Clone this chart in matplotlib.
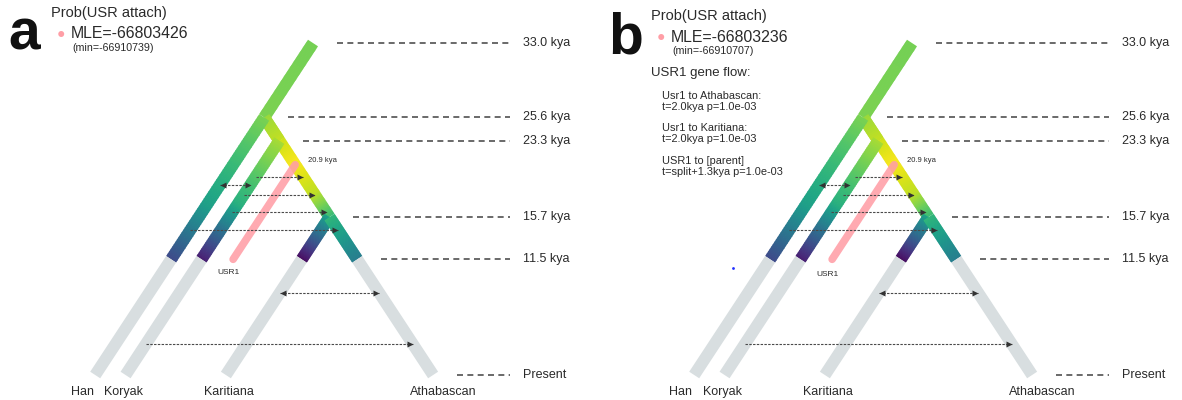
import numpy as np
import matplotlib.pyplot as plt
from matplotlib.collections import LineCollection

plt.rcParams['font.family'] = ['Liberation Sans', 'DejaVu Sans']

W, H = 1182, 400

# tree topology: each branch runs from its parent's bottom end down to t_bottom
branch_names = ['root', 'AB', 'BC', 'Han', 'Koryak', 'Karitiana', 'Athabascan']
branch_parent = [None, 'root', 'AB', 'root', 'AB', 'BC', 'BC']
branch_top = [33.0, 25.6, 23.3, 25.6, 23.3, 15.7, 15.7]
branch_bottom = [25.6, 23.3, 15.7, 0.0, 0.0, 0.0, 0.0]
branch_dir = [-1, 1, 1, -1, -1, -1, 1]
# viridis value stops (time, value) along each branch
branch_colour = [
    [(33.0, 0.79), (25.6, 0.80)],
    [(25.6, 0.85), (23.3, 0.91)],
    [(23.3, 0.92), (21.0, 0.99), (18.0, 0.90), (15.7, 0.68)],
    [(25.6, 0.80), (17.0, 0.57), (11.5, 0.22)],
    [(23.3, 0.87), (17.0, 0.63), (11.5, 0.08)],
    [(15.7, 0.58), (11.5, 0.03)],
    [(15.7, 0.66), (11.5, 0.42)],
]
colour_end = 11.5
leaf_names = ['Han', 'Koryak', 'Karitiana', 'Athabascan']

# time markers on the right
mark_times = [33.0, 25.6, 23.3, 15.7, 11.5, 0.0]
mark_labels = ['33.0 kya', '25.6 kya', '23.3 kya', '15.7 kya', '11.5 kya', 'Present']

# migration arrows: (time, from, to, both ways)
migrations = [
    (19.7, 'Koryak', 'BC', False),
    (18.9, 'Han', 'Koryak', True),
    (17.9, 'Koryak', 'BC', False),
    (16.2, 'Koryak', 'BC', False),
    (14.4, 'Han', 'Athabascan', False),
    (8.2, 'Karitiana', 'Athabascan', True),
    (3.1, 'Koryak', 'Athabascan', False),
]

# ghost lineage USR1
usr1_branch = 'BC'
usr1_attach = 20.9
usr1_end = 11.5

panel_letters = ['a', 'b']
panel_mle = ['MLE=-66803426', 'MLE=-66803236']
panel_min = ['(min=-66910739)', '(min=-66910707)']
gene_flow_title = 'USR1 gene flow:'
gene_flow_lines = [
    ('Usr1 to Athabascan:', 't=2.0kya p=1.0e-03'),
    ('Usr1 to Karitiana:', 't=2.0kya p=1.0e-03'),
    ('USR1 to [parent]', 't=split+1.3kya p=1.0e-03'),
]

PX_X = 6.6      # pixels per x unit
PX_T = 10.06    # pixels per kya
ROOT_PX, PRESENT_PX = 313, 375
PANEL_SHIFT = 599 / PX_X

GREY = '#d8dee0'
PINK = '#ff9ea6'
TXT = '#2a2a2a'

# x of the top end of every branch
x_top = {}
for name, parent in zip(branch_names, branch_parent):
    if parent is None:
        x_top[name] = 0.0
    else:
        i = branch_names.index(parent)
        x_top[name] = x_top[parent] + branch_dir[i] * (branch_top[i] - branch_bottom[i])


def x_at(name, t):
    i = branch_names.index(name)
    return x_top[name] + branch_dir[i] * (branch_top[i] - t)


def right_edge(t):
    xs = [x_at(n, t) for i, n in enumerate(branch_names)
          if branch_bottom[i] <= t <= branch_top[i]]
    return max(xs)


fig = plt.figure(figsize=(W / 100, H / 100), dpi=100)
ax = fig.add_axes([0, 0, 1, 1])
ax.set_xlim(-ROOT_PX / PX_X, (W - ROOT_PX) / PX_X)
ax.set_ylim((PRESENT_PX - H) / PX_T, PRESENT_PX / PX_T)
ax.axis('off')
cmap = plt.cm.viridis


def draw_panel(dx, k):
    segs, cols = [], []
    for i, name in enumerate(branch_names):
        t0, t1 = branch_top[i], branch_bottom[i]
        stops = branch_colour[i]
        st = [s[0] for s in stops][::-1]
        sv = [s[1] for s in stops][::-1]
        lo = max(t1, colour_end)
        ts = np.linspace(t0, lo, 60)
        for a, b in zip(ts[:-1], ts[1:]):
            bb = b - 0.06 if b > lo + 1e-9 else b
            segs.append([(x_at(name, a) + dx, a), (x_at(name, bb) + dx, bb)])
            cols.append(cmap(np.interp(0.5 * (a + b), st, sv)))
        if t1 < colour_end:
            segs.append([(x_at(name, colour_end) + dx, colour_end), (x_at(name, t1) + dx, t1)])
            cols.append(GREY)
    lc = LineCollection(segs, colors=cols, linewidths=8.6, capstyle='butt', zorder=2)
    ax.add_collection(lc)

    # USR1 ghost lineage
    ux0 = x_at(usr1_branch, usr1_attach)
    ux1 = ux0 - (usr1_attach - usr1_end)
    ax.plot([ux0 + dx, ux1 + dx], [usr1_attach, usr1_end], color=PINK, lw=5.5,
            solid_capstyle='round', alpha=0.88, zorder=3)
    ax.text(ux0 + dx + 2.0, usr1_attach + 0.4, f'{usr1_attach} kya', fontsize=5.5,
            color=TXT, va='center', ha='left', zorder=5)
    ax.text(ux1 + dx - 0.7, usr1_end - 1.3 - 0.25 * k, 'USR1', fontsize=6,
            color=TXT, va='center', ha='center', zorder=5)

    # migrations
    for t, src, dst, both in migrations:
        xa, xb = x_at(src, t) + dx, x_at(dst, t) + dx
        ax.plot([xa, xb], [t, t], color='#4a4a4a', lw=0.8, dashes=(2.2, 1.2), zorder=4)
        ax.plot(xb - 0.4, t, marker='>', ms=4.2, color='#333333', mec='none', zorder=4)
        if both:
            ax.plot(xa + 0.4, t, marker='<', ms=4.2, color='#333333', mec='none', zorder=4)

    # time markers
    x_end = (510 - ROOT_PX) / PX_X
    for t, lab in zip(mark_times, mark_labels):
        xs = right_edge(t) + 3.6
        ax.plot([xs + dx, x_end + dx], [t, t], color='#505050', lw=1.2,
                dashes=(3.6, 2.6), zorder=1)
        ax.text(x_end + dx + 2.0, t, lab, fontsize=9, color=TXT, va='center', ha='left')

    # leaf labels
    offs = [-2.0, -0.3, 0.5, 1.6]
    for name, o in zip(leaf_names, offs):
        ax.text(x_at(name, 0.0) + dx + o, -1.65, name, fontsize=9, color=TXT,
                ha='center', va='center')


for k, dx in enumerate([0.0, PANEL_SHIFT]):
    draw_panel(dx, k)

# header text
hx = [0, 600]
hy = [0, 3]
for k in range(2):
    ox, oy = hx[k], hy[k]
    fig.text((8 + ox) / W, 1 - (50 + oy) / H, panel_letters[k], fontsize=41,
             fontweight='bold', color='#111111', ha='left', va='baseline')
    fig.text((51 + ox) / W, 1 - (13 + oy) / H, 'Prob(USR attach)', fontsize=10.5,
             color=TXT, va='center', ha='left')
    fig.text((61 + ox) / W, 1 - (34 + oy) / H, '\u25CF', fontsize=10, color=PINK,
             va='center', ha='center')
    fig.text((71 + ox) / W, 1 - (34 + oy) / H, panel_mle[k], fontsize=11.4,
             color=TXT, va='center', ha='left')
    fig.text((72 + ox) / W, 1 - (48 + oy) / H, panel_min[k], fontsize=7.7,
             color=TXT, va='center', ha='left')

fig.text(651 / W, 1 - 73 / H, gene_flow_title, fontsize=9.5, color=TXT, va='center')
gy = [96, 128, 161]
for (l1, l2), y in zip(gene_flow_lines, gy):
    fig.text(662 / W, 1 - y / H, l1, fontsize=7.9, color=TXT, va='center')
    fig.text(662 / W, 1 - (y + 11) / H, l2, fontsize=7.9, color=TXT, va='center')

# stray point in panel b
ax.plot((733 - ROOT_PX) / PX_X, (PRESENT_PX - 268) / PX_T, marker='o', ms=2,
        color='#2030ff', mec='none')

fig.savefig('out.png', dpi=100)
